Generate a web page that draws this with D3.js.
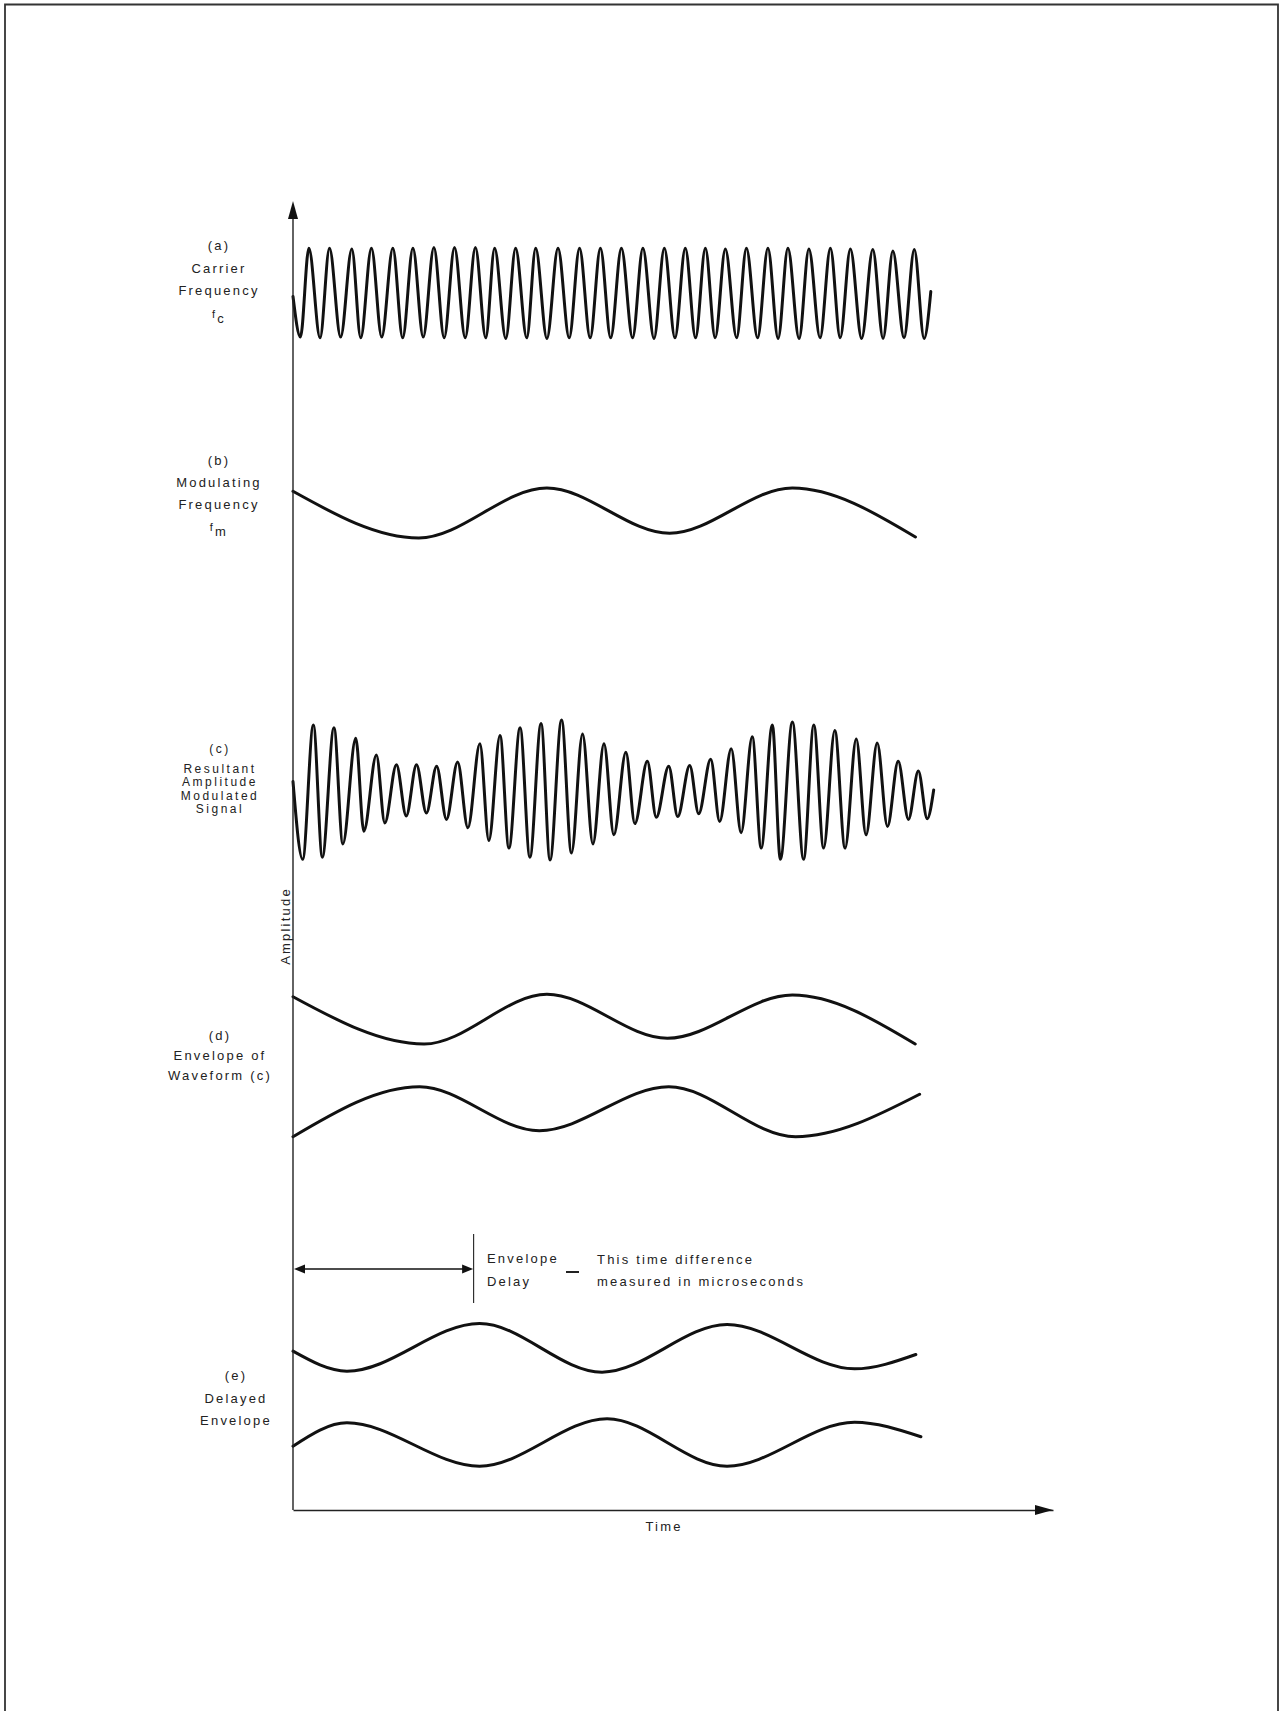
<!DOCTYPE html>
<html>
<head>
<meta charset="utf-8">
<script src="https://cdn.jsdelivr.net/npm/d3@7"></script>
<style>
  body { margin: 0; background: #fff; }
  svg { display: block; }
  text { font-family: "Liberation Sans", Arial, sans-serif; font-size: 13px; fill: #222; letter-spacing: 2.2px; }
</style>
</head>
<body>
<svg id="chart" width="1281" height="1711"></svg>
<script>
// turning points of each trace, [time, amplitude]
var carrier = [
    [0, -0.05], [0.98, -0.63], [2.09, 0.64], [3.56, -0.64], [4.80, 0.64], [6.27, -0.63], [7.74, 0.63],
    [8.91, -0.64], [10.32, 0.64], [11.67, -0.63], [13.14, 0.64], [14.43, -0.64], [15.78, 0.64],
    [17.13, -0.63], [18.54, 0.65], [19.89, -0.64], [21.25, 0.65], [22.66, -0.64], [24.00, 0.65],
    [25.36, -0.64], [26.53, 0.64], [28.00, -0.65], [29.29, 0.64], [30.76, -0.64], [31.93, 0.64],
    [33.41, -0.65], [34.87, 0.64], [36.34, -0.64], [37.70, 0.64], [39.10, -0.64], [40.45, 0.64],
    [41.80, -0.64], [43.21, 0.64], [44.68, -0.64], [46.04, 0.64], [47.50, -0.65], [48.86, 0.64],
    [50.26, -0.64], [51.62, 0.64], [52.97, -0.64], [54.26, 0.64], [55.55, -0.64], [56.89, 0.63],
    [58.37, -0.64], [59.66, 0.64], [61.13, -0.64], [62.49, 0.64], [63.83, -0.65], [65.12, 0.64],
    [66.59, -0.65], [67.88, 0.63], [69.35, -0.64], [70.71, 0.64], [72.00, -0.64], [73.34, 0.63],
    [74.82, -0.65], [76.29, 0.62], [77.64, -0.65], [78.93, 0.60], [80.40, -0.64], [81.75, 0.62],
    [83.04, -0.65], [83.92, 0.02]
]
var modulating = [[0, 0.31], [16.55, -0.357], [33.4, 0.357], [49.55, -0.29], [65.7, 0.357], [81.9, -0.343]]
var resultant = [
    [0, 0.12], [1.27, -0.99], [2.68, 0.93], [3.86, -0.96], [5.39, 0.89], [6.56, -0.77], [8.26, 0.74],
    [9.32, -0.59], [10.97, 0.50], [12.08, -0.47], [13.61, 0.36], [14.90, -0.37], [16.25, 0.36],
    [17.55, -0.33], [18.90, 0.34], [20.19, -0.42], [21.66, 0.40], [23.01, -0.54], [24.59, 0.66],
    [25.77, -0.72], [27.24, 0.78], [28.41, -0.83], [29.88, 0.89], [31.17, -0.96], [32.64, 0.95],
    [33.82, -1.0], [35.34, 1.0], [36.64, -0.90], [38.10, 0.80], [39.46, -0.77], [40.92, 0.66],
    [42.22, -0.64], [43.80, 0.54], [44.98, -0.48], [46.62, 0.41], [47.80, -0.39], [49.44, 0.34],
    [50.62, -0.38], [52.20, 0.35], [53.38, -0.34], [54.96, 0.44], [56.14, -0.45], [57.66, 0.59],
    [58.96, -0.61], [60.43, 0.76], [61.60, -0.83], [63.07, 0.93], [64.13, -0.99], [65.71, 0.97],
    [67.18, -0.99], [68.53, 0.93], [69.82, -0.83], [71.29, 0.85], [72.64, -0.83], [74.11, 0.73],
    [75.40, -0.64], [76.87, 0.67], [78.22, -0.52], [79.63, 0.41], [80.98, -0.42], [82.28, 0.27],
    [83.45, -0.41], [84.3, 0.0]
]
var envUpper = [[0, 0.99], [17.25, 0.314], [33.41, 1.024], [49.26, 0.396], [65.71, 1.014], [81.87, 0.314]]
var envLower = [[0, -1.01], [16.66, -0.296], [32.41, -0.924], [49.44, -0.296], [66.12, -1.01], [82.45, -0.404]]
var delUpper = [[0, 0.626], [7.10, 0.34], [24.55, 1.021], [40.66, 0.326], [57.11, 1.007], [73.89, 0.374], [81.95, 0.579]]
var delLower = [[0, -0.731], [7.10, -0.397], [24.55, -1.017], [41.33, -0.34], [57.11, -1.017], [73.89, -0.389], [82.62, -0.597]]
var envelopeDelay = 23.7

var labelA = ['(a)', 'Carrier', 'Frequency', 'f_c']
var labelB = ['(b)', 'Modulating', 'Frequency', 'f_m']
var labelC = ['(c)', 'Resultant', 'Amplitude', 'Modulated', 'Signal']
var labelD = ['(d)', 'Envelope of', 'Waveform (c)']
var labelE = ['(e)', 'Delayed', 'Envelope']
var delayLabel = ['Envelope', 'Delay']
var delayNote = ['This time difference', 'measured in microseconds']

var svg = d3.select('#chart')
var axisTop = 201, axisY = 1510

var x = d3.scaleLinear().domain([0, 100]).range([293, 1053])
var amp = d3.scaleLinear().domain([-1, 1]).range([70, -70])
var line = d3.line().x(d => x(d[0])).y(d => amp(d[1])).curve(d3.curveMonotoneX)

// scanned page frame
svg.append('path')
    .attr('d', 'M5,1711 V4.5 H1278 V1711')
    .attr('fill', 'none').attr('stroke', '#333').attr('stroke-width', 1.8)

var panels = [
    { mid: 293, curves: [carrier], labels: labelA, lx: 219, ly: [245, 268, 290, 313] },
    { mid: 513, curves: [modulating], labels: labelB, lx: 219, ly: [460, 482, 504, 526] },
    { mid: 790, curves: [resultant], labels: labelC, lx: 220, ly: [748, 768, 781.5, 795, 808.5], fs: 12 },
    { mid: 1066, curves: [envUpper, envLower], labels: labelD, lx: 220, ly: [1035, 1055, 1075] },
    { mid: 1395, curves: [delUpper, delLower], labels: labelE, lx: 236, ly: [1375, 1398, 1420] }
]

panels.forEach(p => {
    var g = svg.append('g').attr('transform', 'translate(0,' + p.mid + ')')
    p.curves.forEach(c => {
        g.append('path').attr('d', line(c))
            .attr('fill', 'none').attr('stroke', '#111').attr('stroke-width', 3)
            .attr('stroke-linejoin', 'round').attr('stroke-linecap', 'round')
    })
    p.labels.forEach((s, i) => {
        var t = svg.append('text').attr('x', p.lx).attr('y', p.ly[i] + 4.5).attr('text-anchor', 'middle')
        if (p.fs) t.style('font-size', p.fs + 'px').style('letter-spacing', '2.5px')
        if (s.indexOf('_') > 0) {
            var parts = s.split('_')
            t.append('tspan').text(parts[0]).style('font-size', '11px')
            t.append('tspan').attr('dy', 5).text(parts[1])
        } else {
            t.text(s)
        }
    })
})

// axes
svg.append('g').attr('transform', 'translate(0,' + axisY + ')')
    .call(d3.axisBottom(x).tickValues([]).tickSizeOuter(0))
    .call(g => g.select('.domain').attr('stroke', '#222').attr('stroke-width', 1.4))
svg.append('line')
    .attr('x1', x(0)).attr('x2', x(0)).attr('y1', axisY).attr('y2', axisTop + 10)
    .attr('stroke', '#222').attr('stroke-width', 1.4)
svg.append('path')
    .attr('d', 'M' + x(0) + ',' + axisTop + ' L' + (x(0) - 5) + ',' + (axisTop + 18) + ' L' + (x(0) + 5) + ',' + (axisTop + 18) + 'Z')
    .attr('fill', '#111')
svg.append('path')
    .attr('d', 'M' + x(100) + ',' + axisY + ' L' + (x(100) - 18) + ',' + (axisY - 5) + ' L' + (x(100) - 18) + ',' + (axisY + 5) + 'Z')
    .attr('fill', '#111')

svg.append('text').attr('x', 664).attr('y', axisY + 21).attr('text-anchor', 'middle').text('Time')
svg.append('text').attr('text-anchor', 'middle')
    .attr('transform', 'translate(290,926) rotate(-90)').text('Amplitude')

// envelope delay marker
var dy = 1269
var dx0 = x(0), dx1 = x(envelopeDelay)
svg.append('line').attr('x1', dx0 + 4).attr('x2', dx1 - 4).attr('y1', dy).attr('y2', dy)
    .attr('stroke', '#111').attr('stroke-width', 1.6)
svg.append('path')
    .attr('d', 'M' + (dx0 + 1) + ',' + dy + ' l11,-4.5 l0,9 Z')
    .attr('fill', '#111')
svg.append('path')
    .attr('d', 'M' + dx1 + ',' + dy + ' l-11,-4.5 l0,9 Z')
    .attr('fill', '#111')
svg.append('line').attr('x1', dx1 + 0.5).attr('x2', dx1 + 0.5).attr('y1', 1234).attr('y2', 1303)
    .attr('stroke', '#222').attr('stroke-width', 1.1)

delayLabel.forEach((s, i) => {
    svg.append('text').attr('x', 487).attr('y', 1262.5 + i * 23.5).text(s)
})
svg.append('line').attr('x1', 566).attr('x2', 579).attr('y1', 1272).attr('y2', 1272)
    .attr('stroke', '#222').attr('stroke-width', 2)
delayNote.forEach((s, i) => {
    svg.append('text').attr('x', 597).attr('y', 1263.5 + i * 22).text(s)
})
</script>
</body>
</html>
